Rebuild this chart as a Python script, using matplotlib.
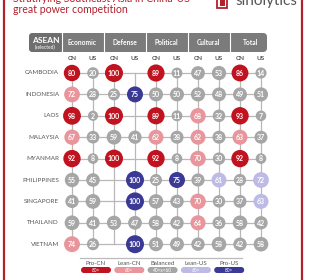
import matplotlib
matplotlib.use("Agg")
import matplotlib.pyplot as plt
from matplotlib.patches import FancyBboxPatch, Rectangle
import numpy as np

plt.rcParams['font.family'] = ['Lato', 'DejaVu Sans']

# data
countries = ["CAMBODIA", "INDONESIA", "LAOS", "MALAYSIA", "MYANMAR",
             "PHILIPPINES", "SINGAPORE", "THAILAND", "VIETNAM"]
dimensions = ["Economic", "Defense", "Political", "Cultural", "Total"]
sides = ["CN", "US"]
# per country: CN/US pairs for Economic, Defense, Political, Cultural, Total (None = no value)
values = [
    [80, 20, 100, None, 89, 11, 47, 53, 86, 14],
    [72, 28, 25, 75, 50, 50, 52, 48, 49, 51],
    [98, 2, 100, None, 89, 11, 68, 32, 93, 7],
    [67, 33, 59, 41, 62, 38, 62, 38, 63, 37],
    [92, 8, 100, None, 92, 8, 70, 30, 92, 8],
    [55, 45, None, 100, 25, 75, 39, 61, 28, 72],
    [41, 59, None, 100, 57, 43, 70, 30, 37, 63],
    [59, 41, 53, 47, 58, 42, 64, 36, 58, 42],
    [74, 26, None, 100, 51, 49, 42, 58, 42, 58],
]
legend_names = ["Pro-CN", "Lean-CN", "Balanced", "Lean-US", "Pro-US"]
legend_ranges = ["80>", "60>", "40<x<60", "60>", "80>"]

RED, PINK, GREY, BLUE, LAV = "#C1121F", "#E8959C", "#A6A6A6", "#3B3996", "#BDBBE6"
legend_colors = [RED, PINK, GREY, LAV, BLUE]


def color_for(v, side):
    if v >= 75:
        return RED if side == "CN" else BLUE
    if v >= 60:
        return PINK if side == "CN" else LAV
    return GREY


fig = plt.figure(figsize=(3.1, 2.8), dpi=100)
ax = fig.add_axes([0, 0, 1, 1])
ax.set_xlim(0, 310)
ax.set_ylim(280, 0)
ax.axis("off")

# frame + title + logo (the top of the original is cropped)
ax.plot([4, 4], [0, 280], color="#B3202C", lw=1.6)
ax.plot([302, 302], [0, 280], color="#B3202C", lw=1.6)
ax.text(13, 1.8, "Stratifying Southeast Asia in China-US", color="#B3202C",
        fontsize=7.6, va="baseline", ha="left", clip_on=True)
ax.text(13, 13, "great power competition", color="#B3202C",
        fontsize=7.6, va="baseline", ha="left")
ax.add_patch(Rectangle((217, -2), 10, 10, facecolor="none", edgecolor="#B3202C", lw=1.3))
ax.add_patch(Rectangle((219.5, 0), 5, 5.5, facecolor="#B3202C", edgecolor="none"))
ax.text(235, 5.5, "sinolytics", color="#555555", fontsize=11, va="baseline",
        ha="left", clip_on=True)

x0, dx = 72, 21.0
y0, dy = 73, 21.4
xs = x0 + dx * np.arange(10)
ys = y0 + dy * np.arange(len(countries))

# header bar
hx0, hx1, hy0, hy1 = 29, 267, 33, 52
ax.add_patch(FancyBboxPatch((hx0, hy0), hx1 - hx0, hy1 - hy0,
                            boxstyle="round,pad=0,rounding_size=4",
                            facecolor="#7B7B7B", edgecolor="none", zorder=1))
bounds = [hx0, 62] + [(xs[2 * k + 1] + xs[2 * k + 2]) / 2 for k in range(4)] + [hx1]
ax.add_patch(FancyBboxPatch((hx0, hy0), bounds[1] - hx0, hy1 - hy0,
                            boxstyle="round,pad=0,rounding_size=4",
                            facecolor="#6E6E6E", edgecolor="none", zorder=1))
for b in bounds[1:-1]:
    ax.plot([b, b], [hy0, hy1], color="white", lw=0.8, zorder=2)
ax.text((hx0 + bounds[1]) / 2, 40.5, "ASEAN", color="white", fontsize=6,
        fontweight="bold", ha="center", va="center", zorder=3)
ax.text((hx0 + bounds[1]) / 2, 47.5, "(selected)", color="white", fontsize=3.5,
        ha="center", va="center", zorder=3)
for k, name in enumerate(dimensions):
    ax.text((xs[2 * k] + xs[2 * k + 1]) / 2, 42.5, name, color="white",
            fontsize=4.8, fontweight="bold", ha="center", va="center", zorder=3)
    for s in range(2):
        ax.text(xs[2 * k + s], 58, sides[s], color="#555555", fontsize=4.6,
                fontweight="bold", ha="center", va="center")

# grid lines
for x in xs:
    ax.plot([x, x], [ys[0], ys[-1]], color="#B8B8B8", lw=0.9, zorder=1)
for y in ys:
    ax.plot([xs[0], xs[-1]], [y, y], color="#B8B8B8", lw=0.9, zorder=1)

# circles
for j, row in enumerate(values):
    ax.text(59, ys[j], countries[j], color="#555555", fontsize=4.5,
            ha="right", va="center")
    for i, v in enumerate(row):
        if v is None:
            continue
        side = sides[i % 2]
        r = 5 + 0.04 * v
        ax.scatter(xs[i], ys[j], s=(1.44 * r) ** 2, color=color_for(v, side),
                   edgecolors="none", zorder=3)
        ax.text(xs[i], ys[j] + 0.3, str(v), color="white", fontsize=5,
                fontweight="bold", ha="center", va="center", zorder=4)

# legend
ax.plot([80, 242], [258, 258], color="#BBBBBB", lw=0.9)
for k, (name, rng, c) in enumerate(zip(legend_names, legend_ranges, legend_colors)):
    cx = 96 + 33.3 * k
    ax.text(cx, 263.5, name, color="#555555", fontsize=4.4, ha="center", va="center")
    ax.add_patch(FancyBboxPatch((cx - 15, 267), 30, 6,
                                boxstyle="round,pad=0,rounding_size=3",
                                facecolor=c, edgecolor="none"))
    ax.text(cx, 270.2, rng, color="white", fontsize=3.4, ha="center", va="center")

fig.savefig("out.png", dpi=100)
